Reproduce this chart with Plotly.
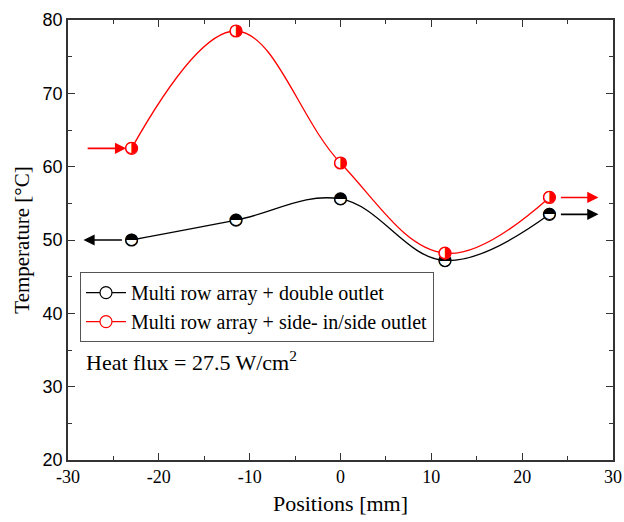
import plotly.graph_objects as go

positions = [-23, -11.5, 0, 11.5, 23]
temp_double = [50.0, 52.7, 55.6, 47.2, 53.5]
temp_side = [62.5, 78.5, 60.5, 48.2, 55.8]

x_ticks = [-30, -20, -10, 0, 10, 20, 30]
x_tick_labels = ["-30", "-20", "-10", "0", "10", "20", "30"]

name_double = "Multi row array + double outlet"
name_side = "Multi row array + side- in/side outlet"

serif = "Liberation Serif, Times New Roman, serif"
sans = "Liberation Sans, Arial, sans-serif"

fig = go.Figure()

for y, col, nm, glyph in [(temp_double, "black", name_double, "\u25D3"),
                          (temp_side, "#ff0000", name_side, "\u25D1")]:
    fig.add_trace(go.Scatter(
        x=positions, y=y, mode="lines+markers", name=nm,
        line=dict(color=col, width=1.3, shape="spline", smoothing=1.1),
        marker=dict(symbol="circle", size=12, color="white",
                    line=dict(color=col, width=1.2)),
    ))
    fig.add_trace(go.Scatter(
        x=positions, y=y, mode="text", text=[glyph] * len(positions),
        textposition="middle center", showlegend=False, hoverinfo="skip",
        textfont=dict(family="DejaVu Sans", size=16, color=col),
    ))

# inlet/outlet arrows
arrows = [
    (-23.6, temp_side[0], -28.0, temp_side[0], "#ff0000"),
    (-28.3, temp_double[0], -23.9, temp_double[0], "black"),
    (28.4, temp_side[4], 24.1, temp_side[4], "#ff0000"),
    (28.4, temp_double[4], 24.1, temp_double[4], "black"),
]
for x, y, ax, ay, col in arrows:
    fig.add_annotation(x=x, y=y, ax=ax, ay=ay, xref="x", yref="y",
                       axref="x", ayref="y", text="", showarrow=True,
                       arrowhead=2, arrowsize=1.4, arrowwidth=1.6,
                       arrowcolor=col)

fig.add_annotation(x=0.03, y=0.225, xref="paper", yref="paper",
                   xanchor="left", yanchor="middle", showarrow=False,
                   text="Heat flux = 27.5 W/cm<sup>2</sup>",
                   font=dict(family=serif, size=22, color="black"))

axis_common = dict(showline=True, linecolor="#333333", linewidth=1.5,
                   mirror="allticks", ticks="inside", ticklen=7,
                   tickwidth=1.3, tickcolor="#333333", showgrid=False,
                   zeroline=False, automargin=False)

fig.update_xaxes(range=[-30, 30], tickmode="array", tickvals=x_ticks,
                 ticktext=x_tick_labels,
                 minor=dict(ticks="inside", ticklen=4, dtick=5, tick0=-30,
                            tickcolor="#333333", tickwidth=1.2),
                 tickfont=dict(family=serif, size=18, color="black"),
                 title=dict(text="Positions [mm]",
                            font=dict(family=serif, size=22, color="black"),
                            standoff=9),
                 **axis_common)
fig.update_yaxes(range=[20, 80], dtick=10,
                 minor=dict(ticks="inside", ticklen=4, dtick=5,
                            tickcolor="#333333", tickwidth=1.2),
                 tickfont=dict(family=sans, size=18, color="black"),
                 title=dict(text="Temperature [°C]",
                            font=dict(family=serif, size=21, color="black"),
                            standoff=7),
                 **axis_common)

fig.update_layout(
    width=624, height=522,
    margin=dict(l=68, r=11, t=20, b=62),
    plot_bgcolor="white", paper_bgcolor="white",
    legend=dict(x=0.022, y=0.427, xanchor="left", yanchor="top",
                bgcolor="white", bordercolor="#555555", borderwidth=1,
                font=dict(family=serif, size=20, color="black"),
                itemwidth=40, tracegroupgap=0),
    showlegend=True,
)

fig.write_html(
    "out.html",
    config={"displayModeBar": False},
    post_script="document.body.style.margin='0px';"
                "document.body.style.overflow='hidden';",
)
